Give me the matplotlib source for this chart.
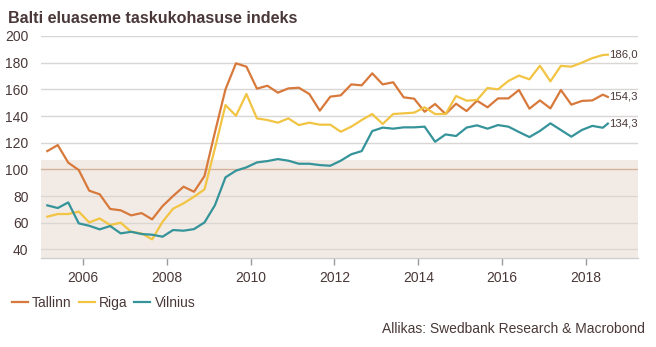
import numpy as np
import matplotlib
matplotlib.use('Agg')
import matplotlib.pyplot as plt

plt.rcParams['font.family'] = ['Liberation Sans', 'DejaVu Sans']

TEXT = '#4a3838'

# quarterly points, last one half a quarter later
years = list(2005.15 + 0.25 * np.arange(54)) + [2018.52]

tallinn = [113.7, 118.2, 105.0, 99.5, 84.0, 81.3, 70.3, 69.3, 65.5, 67.2,
           62.5, 72.5, 80.0, 87.0, 83.2, 95.0, 128.0, 160.0, 179.5, 177.0,
           160.5, 162.7, 157.5, 160.7, 161.2, 156.5, 144.0, 154.5, 155.5, 163.7,
           163.0, 172.0, 163.7, 165.3, 154.0, 153.0, 143.2, 149.0, 141.5, 149.2,
           143.7, 151.5, 146.5, 153.2, 153.2, 159.5, 145.5, 151.7, 145.7, 159.5,
           148.5, 151.3, 151.7, 156.0, 154.3]
riga = [64.5, 66.5, 66.5, 68.3, 60.2, 63.2, 58.2, 60.0, 53.2, 52.0,
        47.5, 60.7, 70.5, 74.5, 79.5, 85.0, 116.0, 148.2, 140.2, 156.5,
        138.2, 137.0, 135.0, 138.2, 133.2, 135.0, 133.5, 133.5, 128.2, 132.0,
        137.0, 141.5, 134.0, 141.5, 142.0, 142.5, 146.5, 141.5, 141.5, 155.0,
        151.5, 152.0, 161.0, 160.0, 166.3, 170.3, 167.5, 177.7, 166.0, 177.6,
        177.0, 180.0, 183.4, 185.7, 186.0]
vilnius = [73.0, 71.0, 75.2, 59.5, 57.7, 55.0, 57.5, 52.0, 53.2, 51.5,
           51.0, 49.5, 54.5, 54.0, 55.2, 60.2, 73.2, 94.0, 99.0, 101.5,
           105.2, 106.2, 107.7, 106.5, 104.2, 104.2, 103.2, 102.7, 106.5, 111.3,
           113.7, 128.7, 131.3, 130.5, 131.5, 131.5, 132.0, 120.7, 126.2, 125.0,
           131.3, 133.0, 130.5, 133.2, 132.0, 128.0, 124.2, 128.8, 134.5, 129.5,
           124.5, 129.5, 132.6, 131.2, 134.3]

series = [('Tallinn', tallinn, '#d8793c'),
          ('Riga', riga, '#f2c443'),
          ('Vilnius', vilnius, '#35939a')]

xticks = [2006, 2008, 2010, 2012, 2014, 2016, 2018]
yticks = [40, 60, 80, 100, 120, 140, 160, 180, 200]

fig = plt.figure(figsize=(6.56, 3.47), dpi=100)
ax = fig.add_axes([0.0625, 0.2556, 0.9101, 0.6407])
ax.set_xlim(2005.0, 2019.24)
ax.set_ylim(33.3, 200)

# shaded "affordable" zone
ax.axhspan(33.3, 107, color='#f2ebe5', zorder=0, lw=0)
for y in yticks:
    if y == 100:
        ax.axhline(y, color='#d4b39c', lw=1, zorder=1)
    else:
        ax.axhline(y, color='#d9d6d3', lw=1, zorder=1)

for name, vals, col in series:
    ax.plot(years, vals, color=col, lw=1.6, label=name, zorder=3,
            solid_joinstyle='round')
    ax.text(years[-1] + 0.03, vals[-1], f'{vals[-1]:.1f}'.replace('.', ','),
            color=TEXT, fontsize=8.2, va='center', ha='left')

for s in ['top', 'right', 'left']:
    ax.spines[s].set_visible(False)
ax.spines['bottom'].set_color('#cfcfcf')
ax.spines['bottom'].set_linewidth(1)

ax.set_xticks(xticks)
ax.set_yticks(yticks)
ax.tick_params(axis='x', length=5, width=1, color='#9a9a9a', labelsize=10,
               labelcolor=TEXT, pad=4)
ax.tick_params(axis='y', length=0, labelsize=10, labelcolor=TEXT, pad=9)

fig.text(0.012, 0.935, 'Balti eluaseme taskukohasuse indeks', fontsize=11.6,
         fontweight='bold', color=TEXT, ha='left', va='baseline')

fig.legend(loc='center left', bbox_to_anchor=(0.012, 0.127), ncol=3, frameon=False,
           fontsize=10, handlelength=1.15, handletextpad=0.3, columnspacing=0.5,
           labelcolor=TEXT, borderaxespad=0, borderpad=0.3)

fig.text(0.983, 0.04, 'Allikas: Swedbank Research & Macrobond', fontsize=10,
         color=TEXT, ha='right', va='baseline')

fig.savefig('out.png', dpi=100)
